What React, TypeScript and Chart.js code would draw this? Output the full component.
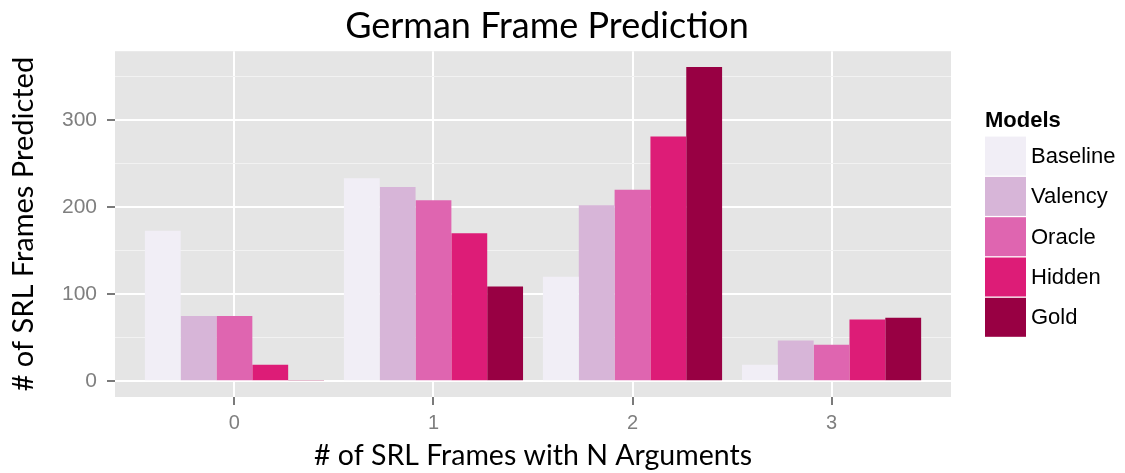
import { useEffect, useRef } from "react";
import { Chart, registerables } from "chart.js";

Chart.register(...registerables);

// Number of SRL frames with N arguments
const categories = [0, 1, 2, 3];
const models = ["Baseline", "Valency", "Oracle", "Hidden", "Gold"];
const baseline = [173, 233, 120, 19];
const valency = [75, 223, 202, 47];
const oracle = [75, 208, 220, 42];
const hidden = [19, 170, 281, 71];
const gold = [1, 109, 361, 73];
const modelColors = ["#F1EEF6", "#D7B5D8", "#DF65B0", "#DD1C77", "#980043"];
const yTickValues = [0, 50, 100, 150, 200, 250, 300, 350];
const yLabelValues = [0, 100, 200, 300];

const seriesValues = [baseline, valency, oracle, hidden, gold];

const SANS = '"Liberation Sans", Arial, Helvetica, sans-serif';
const TITLE_FONT = "Lato, sans-serif";
const GREY50 = "#7F7F7F";
const TICK_GREY = "#7A7A7A";
const TICK_LEN = 8;

// Draws the ggplot-style grey panel behind the grid
const panelBackground = {
  id: "panelBackground",
  beforeDraw(chart: any) {
    const { ctx, chartArea } = chart;
    ctx.save();
    ctx.fillStyle = "#E5E5E5";
    ctx.fillRect(chartArea.left, chartArea.top, chartArea.right - chartArea.left, chartArea.bottom - chartArea.top);
    ctx.restore();
  },
};

// Short grey tick marks under the panel at each x category
const xTickMarks = {
  id: "xTickMarks",
  afterDraw(chart: any) {
    const { ctx, chartArea } = chart;
    const scale = chart.scales.x;
    ctx.save();
    ctx.strokeStyle = TICK_GREY;
    ctx.lineWidth = 2;
    scale.ticks.forEach((_t: any, i: number) => {
      const px = Math.round(scale.getPixelForTick(i));
      ctx.beginPath();
      ctx.moveTo(px, chartArea.bottom);
      ctx.lineTo(px, chartArea.bottom + TICK_LEN);
      ctx.stroke();
    });
    ctx.restore();
  },
};

// Legend with stacked square keys and a bold heading
const modelLegend = {
  id: "modelLegend",
  afterDraw(chart: any) {
    const { ctx, chartArea } = chart;
    const keyX = chartArea.right + 34;
    const keyW = 41;
    const keyH = 39;
    const step = 40.3;
    const centerY = (chartArea.top + chartArea.bottom) / 2;
    const keysTop = centerY - 87.5;
    ctx.save();
    ctx.fillStyle = "#000000";
    ctx.textBaseline = "alphabetic";
    ctx.textAlign = "left";
    ctx.font = `bold 22px ${SANS}`;
    ctx.fillText("Models", keyX, keysTop - 10);
    ctx.font = `22px ${SANS}`;
    ctx.textBaseline = "middle";
    chart.data.datasets.forEach((ds: any, i: number) => {
      const y = keysTop + i * step;
      ctx.fillStyle = ds.backgroundColor;
      ctx.fillRect(keyX, y, keyW, keyH);
      ctx.fillStyle = "#000000";
      ctx.fillText(ds.label, keyX + keyW + 5, y + keyH / 2 + 1);
    });
    ctx.restore();
  },
};

export default function App() {
  const canvasRef = useRef<HTMLCanvasElement | null>(null);

  useEffect(() => {
    document.body.style.margin = "0";
    const canvas = canvasRef.current;
    if (!canvas) return;

    const datasets = models.map((name, i) => ({
      label: name,
      data: categories.map((c, j) => ({ x: c, y: seriesValues[i][j] })),
      backgroundColor: modelColors[i],
      borderWidth: 0,
      barPercentage: 1,
      categoryPercentage: 0.9,
    }));

    const chart = new Chart(canvas, {
      type: "bar",
      data: { datasets },
      options: {
        animation: false,
        responsive: true,
        maintainAspectRatio: false,
        layout: { padding: { left: 0, right: 31, top: 0, bottom: 0 } },
        plugins: {
          legend: { display: false },
          tooltip: { enabled: false },
          title: {
            display: true,
            text: "German Frame Prediction",
            color: "#000000",
            font: { family: TITLE_FONT, size: 36, weight: "normal", lineHeight: 1.2 },
            padding: { top: 5, bottom: 3 },
          },
        },
        scales: {
          x: {
            type: "linear",
            min: -0.6,
            max: 3.6,
            offset: false,
            afterBuildTicks: (scale: any) => {
              scale.ticks = categories.map((v) => ({ value: v }));
            },
            afterFit: (scale: any) => {
              scale.height = 76;
            },
            ticks: {
              color: GREY50,
              font: { family: SANS, size: 20 },
              padding: 6 + TICK_LEN,
              callback: (v: any) => String(v),
            },
            grid: {
              offset: false,
              drawTicks: false,
              color: "#FFFFFF",
              lineWidth: 2,
            },
            border: { display: false },
            title: {
              display: true,
              text: "# of SRL Frames with N Arguments",
              color: "#000000",
              font: { family: TITLE_FONT, size: 28.5, lineHeight: 1.2 },
              padding: { top: 0, bottom: 0 },
            },
          },
          y: {
            type: "linear",
            min: -18,
            max: 379,
            afterBuildTicks: (scale: any) => {
              scale.ticks = yTickValues.map((v) => ({ value: v }));
            },
            afterFit: (scale: any) => {
              scale.width = 115;
            },
            ticks: {
              color: GREY50,
              font: { family: SANS, size: 21 },
              padding: 10,
              callback: (v: any) => (yLabelValues.includes(v) ? String(v) : ""),
            },
            grid: {
              color: (ctx: any) => (yLabelValues.includes(ctx.tick?.value) ? "#FFFFFF" : "#F2F2F2"),
              lineWidth: (ctx: any) => (yLabelValues.includes(ctx.tick?.value) ? 2 : 1),
              tickLength: TICK_LEN,
              tickColor: (ctx: any) => (yLabelValues.includes(ctx.tick?.value) ? TICK_GREY : "rgba(0,0,0,0)"),
              tickWidth: 2,
            },
            border: { display: false },
            title: {
              display: true,
              text: "# of SRL Frames Predicted",
              color: "#000000",
              font: { family: TITLE_FONT, size: 29, lineHeight: 1.2 },
              padding: { top: 6, bottom: 0 },
            },
          },
          // room on the right for the legend
          legendSpace: {
            type: "linear",
            position: "right",
            display: true,
            grid: { display: false, drawTicks: false },
            ticks: { display: false },
            border: { display: false },
            afterFit: (scale: any) => {
              scale.width = 143;
            },
          },
        },
      },
      plugins: [panelBackground, xTickMarks, modelLegend],
    } as any);

    return () => chart.destroy();
  }, []);

  return (
    <div style={{ width: 1125, height: 473, position: "relative" }}>
      <canvas ref={canvasRef} />
    </div>
  );
}
